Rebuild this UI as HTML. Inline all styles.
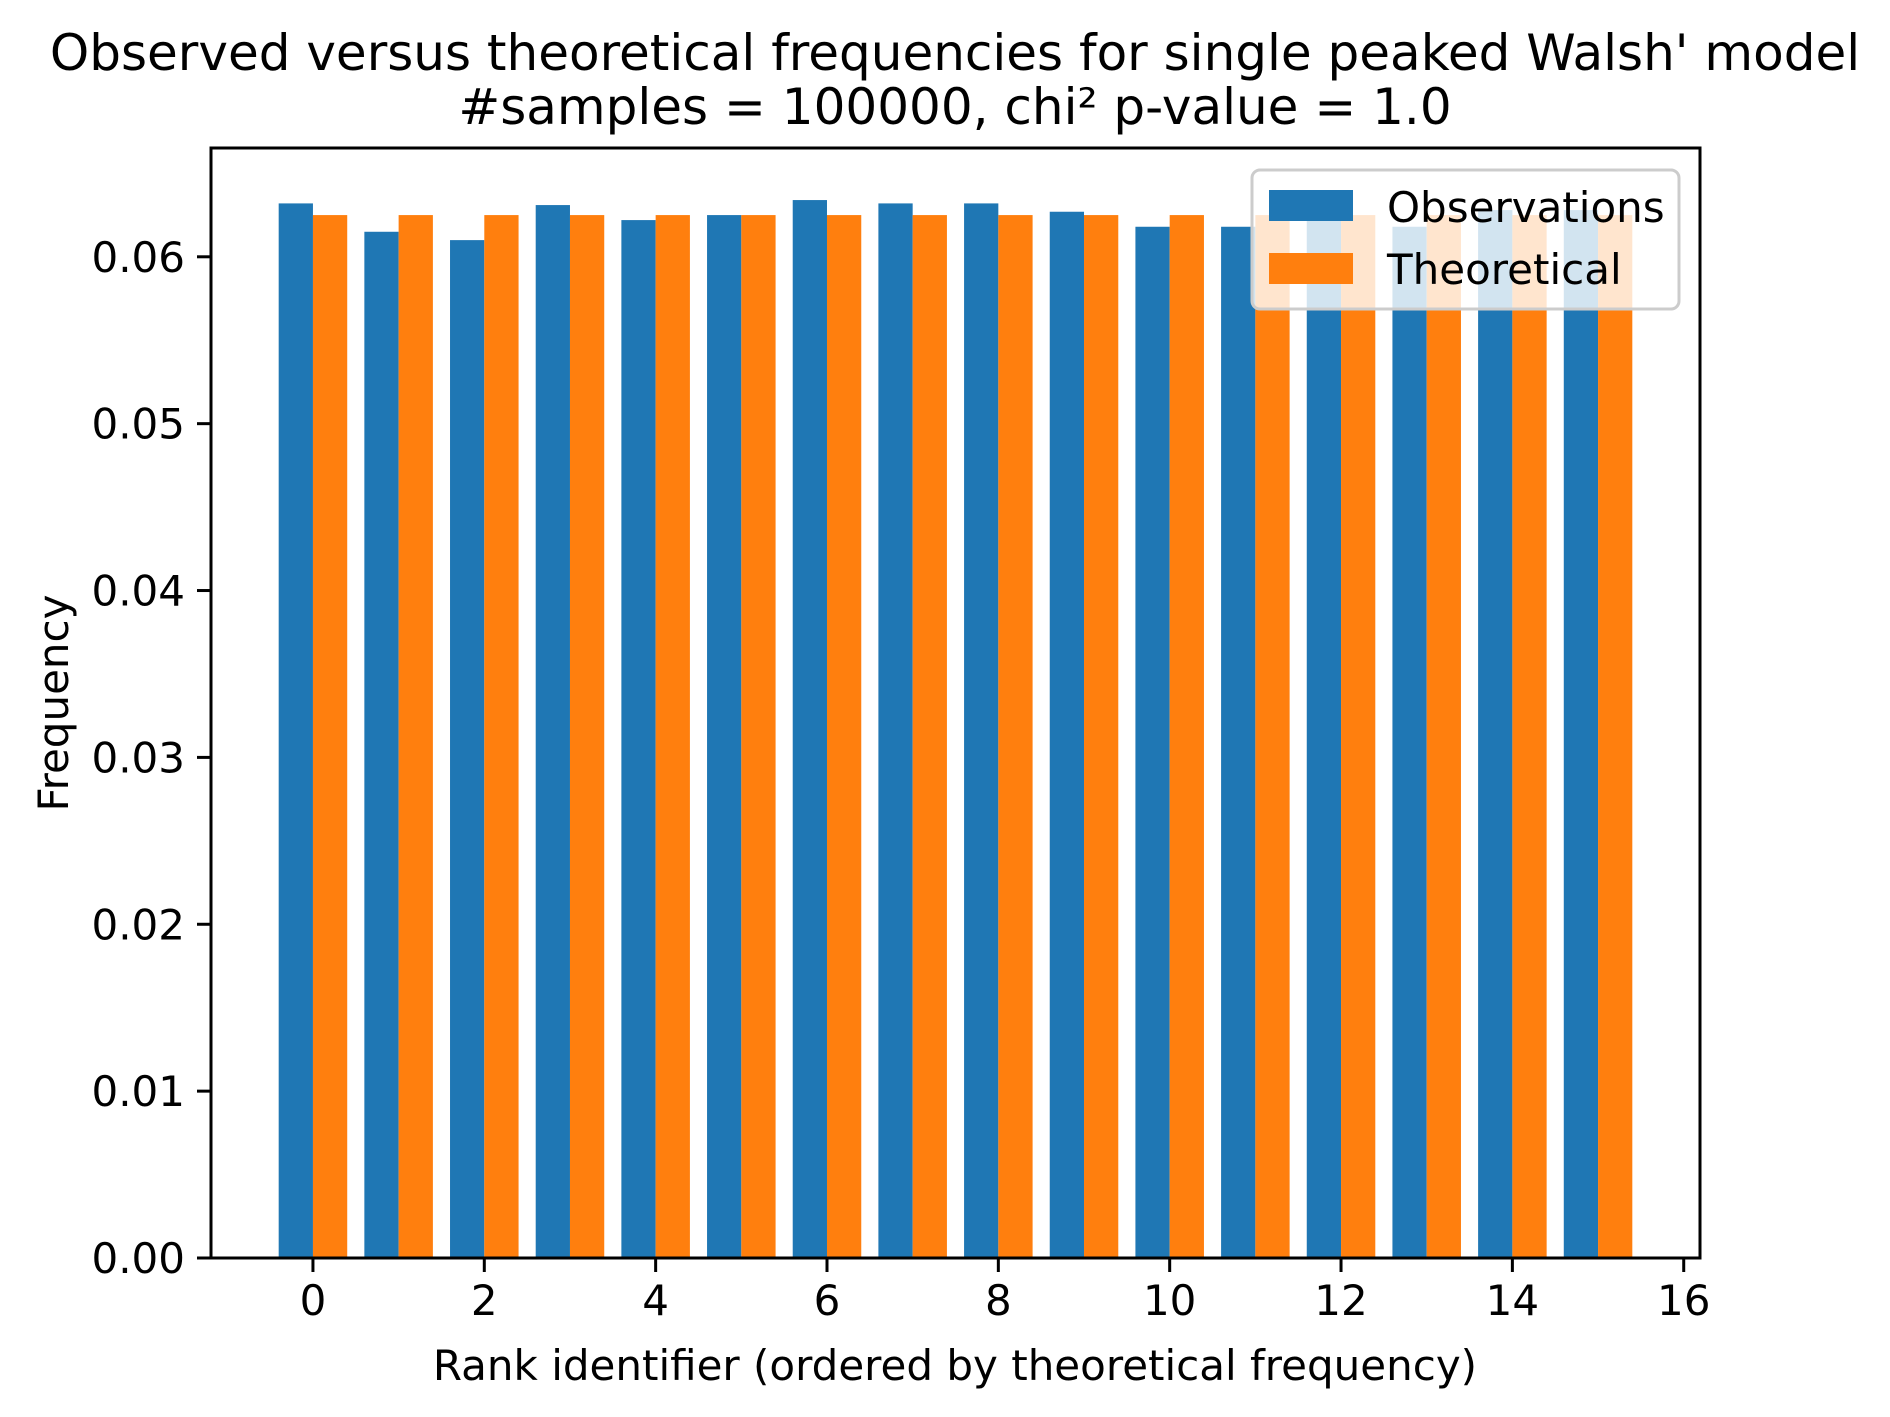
<!DOCTYPE html>
<html><head><meta charset="utf-8"><style>
html,body{margin:0;padding:0;background:#fff;}
svg{display:block;font-family:"DejaVu Sans","Liberation Sans",sans-serif;}
</style></head><body>
<svg id="chart" width="1890" height="1417" viewBox="0 0 1890 1417" xmlns="http://www.w3.org/2000/svg">
<rect width="1890" height="1417" fill="#fff"/>
<text x="955" y="70" font-size="50" text-anchor="middle">Observed versus theoretical frequencies for single peaked Walsh' model</text>
<text x="955" y="124" font-size="50" text-anchor="middle">#samples = 100000, chi² p-value = 1.0</text>
<g id="bars"></g>
<g id="axes"></g>
<text x="955" y="1380" font-size="42" text-anchor="middle">Rank identifier (ordered by theoretical frequency)</text>
<text x="0" y="0" font-size="42" text-anchor="middle" transform="translate(68,703) rotate(-90)">Frequency</text>
<g>
<rect x="1252" y="170" width="427" height="139" rx="8" fill="#fff" fill-opacity="0.8" stroke="#cccccc" stroke-width="3"/>
<rect x="1269" y="190" width="84" height="31" fill="#1f77b4"/>
<text x="1387" y="222" font-size="42">Observations</text>
<rect x="1269" y="253" width="84" height="31" fill="#ff7f0e"/>
<text x="1387" y="284" font-size="42">Theoretical</text>
</g>
</svg>
<script>
const categories = [0,1,2,3,4,5,6,7,8,9,10,11,12,13,14,15];
const observed = [0.0632,0.0615,0.0610,0.0631,0.0622,0.0625,0.0634,0.0632,0.0632,0.0627,0.0618,0.0618,0.0632,0.0618,0.0628,0.0628];
const theoretical = [0.0625,0.0625,0.0625,0.0625,0.0625,0.0625,0.0625,0.0625,0.0625,0.0625,0.0625,0.0625,0.0625,0.0625,0.0625,0.0625];
const xTicks = [0,2,4,6,8,10,12,14,16];
const yTicks = [0,0.01,0.02,0.03,0.04,0.05,0.06];
const yTickLabels = ["0.00","0.01","0.02","0.03","0.04","0.05","0.06"];

const NS = "http://www.w3.org/2000/svg";
const L = 211, R = 1700, T = 148, B = 1258;
const xMin = -1.19, xMax = 16.19;
const yMax = 0.06652;
function xs(v){ return L + (v - xMin) / (xMax - xMin) * (R - L); }
function ys(v){ return B - v / yMax * (B - T); }
const barsG = document.getElementById('bars');
const axesG = document.getElementById('axes');
function mk(tag, attrs, parent){
  const e = document.createElementNS(NS, tag);
  for (const k in attrs) e.setAttribute(k, attrs[k]);
  parent.appendChild(e);
  return e;
}
const w = 0.4;
categories.forEach((c, i) => {
  const r1 = mk('rect', {x: xs(c - w), y: ys(observed[i]), width: xs(c) - xs(c - w), height: ys(0) - ys(observed[i]), fill: '#1f77b4'}, barsG);
  
  
  const r2 = mk('rect', {x: xs(c), y: ys(theoretical[i]), width: xs(c + w) - xs(c), height: ys(0) - ys(theoretical[i]), fill: '#ff7f0e'}, barsG);
  
  
});
const frame = mk('rect', {x: L, y: T, width: R - L, height: B - T, fill: 'none', stroke: '#000', 'stroke-width': 3}, axesG);


xTicks.forEach(t => {
  const x = xs(t);
  const ln = mk('line', {x1: x, x2: x, y1: B, y2: B + 14, stroke: '#000', 'stroke-width': 3}, axesG);
  
  
  const tx = mk('text', {x: x, y: B + 57, 'font-size': 42, 'text-anchor': 'middle'}, axesG);
  
  
  tx.textContent = String(t);
});
yTicks.forEach((t, i) => {
  const y = ys(t);
  const ln = mk('line', {x1: L - 14, x2: L, y1: y, y2: y, stroke: '#000', 'stroke-width': 3}, axesG);
  
  
  const tx = mk('text', {x: L - 26, y: y + 15, 'font-size': 42, 'text-anchor': 'end'}, axesG);
  
  
  tx.textContent = yTickLabels[i];
});
</script>
</body></html>
